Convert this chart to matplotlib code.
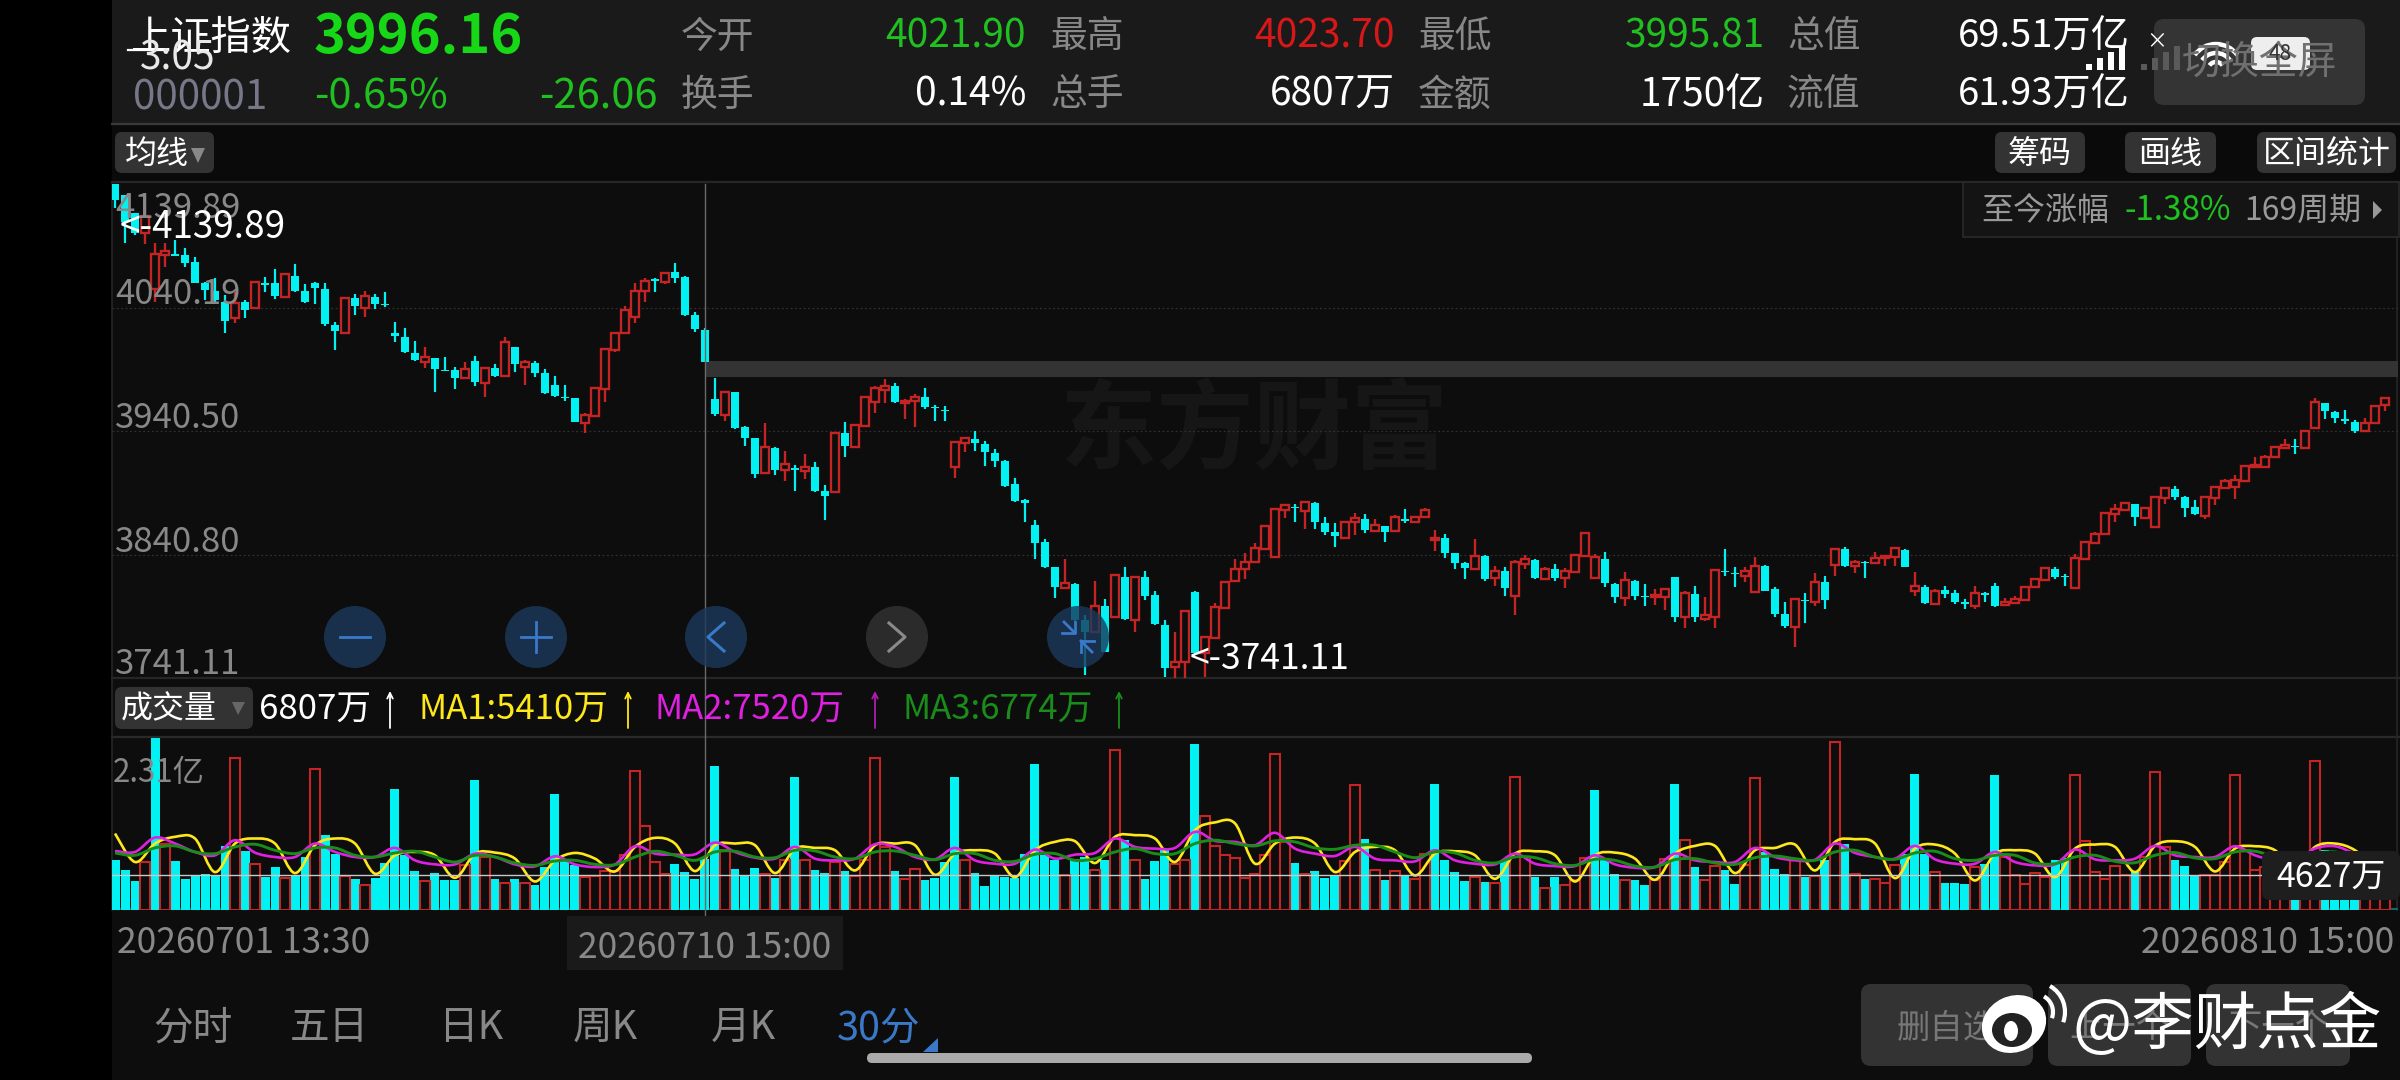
"""
30-minute candlestick chart of 上证指数 with volume panel, app screenshot layout.
"""

import numpy as np
import matplotlib
matplotlib.use("Agg")
import matplotlib.pyplot as plt
from matplotlib.path import Path
from matplotlib.patches import Circle, Ellipse, FancyBboxPatch, PathPatch, Polygon, Rectangle, Arc

plt.rcParams["font.family"] = ["Noto Sans CJK SC", "DejaVu Sans"]

PRICE_TOP = 4139.89
PRICE_BOTTOM = 3741.11
VOLUME_TOP = 23200
PRICE_GRID = [4040.19, 3940.50, 3840.80]
PRICE_LABELS = ["4139.89", "4040.19", "3940.50", "3840.80", "3741.11"]

opens = [
    4139.9, 4131, 4116.2, 4100, 4054.9, 4082.6, 4083.4, 4082.6, 4077.2, 4059.7,
    4053.8, 4044.9, 4031.4, 4044.4, 4039.5, 4059.7, 4059.7, 4049, 4065.9, 4053.8,
    4059.7, 4055.1, 4026, 4019.9, 4048.1, 4039.5, 4048.4, 4042.8, 4019.9, 4016.1,
    4003.7, 3996.5, 3999.2, 3989.7, 3989.7, 3983, 3997, 3979, 3991.1, 3984.9,
    4008.6, 3992.4, 3995.7, 3987.6, 3977.6, 3968.2, 3966.9, 3947.2, 3952.6, 3974.4,
    4005.9, 4019.3, 4032.8, 4053.8, 4063.2, 4061, 4069.1, 4064.5, 4034.1, 4021.9,
    3966, 3953.4, 3971.7, 3944, 3934.6, 3906.3, 3927, 3909, 3910.3, 3908.5,
    3911.1, 3892.3, 3891, 3938.6, 3927.8, 3944.8, 3963.6, 3973.6, 3976.8, 3963.4,
    3964.7, 3967.7, 3959.9, 3957.4, 3911.7, 3931.1, 3934, 3930, 3923, 3916.5,
    3897.7, 3884.8, 3864.6, 3850.6, 3830.4, 3814, 3817, 3787.9, 3778, 3799.5,
    3790, 3822.9, 3787.9, 3822.3, 3808.1, 3783.9, 3749.7, 3754.3, 3810.8, 3761,
    3773.1, 3797.9, 3819.4, 3829.1, 3835, 3845.2, 3838.5, 3876.7, 3879.4, 3875.9,
    3882.6, 3865.9, 3859.2, 3854.4, 3867.3, 3869.2, 3860, 3863.8, 3859.5, 3869.4,
    3867.3, 3871.3, 3852.5, 3853.8, 3841.7, 3834.2, 3829.1, 3839.6, 3821.5, 3827.5,
    3807.3, 3833.1, 3836.3, 3821, 3829.1, 3821.5, 3826.4, 3839.8, 3821.5, 3837.1,
    3817, 3805.4, 3819.4, 3807.5, 3806.7, 3806.7, 3822.3, 3790, 3808.9, 3788.4,
    3790.6, 3827.5, 3826.1, 3823.4, 3810.8, 3831.5, 3812.7, 3792.5, 3782.5, 3804,
    3802.7, 3818.3, 3832.3, 3845.2, 3831.8, 3834.7, 3833.6, 3837.7, 3838.5, 3844.4,
    3811.6, 3814.3, 3800.8, 3812.1, 3809.4, 3802.2, 3799.5, 3809.4, 3815.6, 3800,
    3801.4, 3804, 3814.3, 3820.2, 3828.8, 3823.4, 3813.7, 3837.1, 3850.3, 3857.3,
    3873.5, 3876.7, 3881.3, 3870, 3863.3, 3886.1, 3893.9, 3887.5, 3878.9, 3871.9,
    3886.7, 3894.2, 3895.5, 3900.1, 3911.7, 3911.2, 3919.8, 3927, 3928.6, 3926.5,
    3943.2, 3962.8, 3956.1, 3950.2, 3948, 3940.8, 3946.7, 3961.5,
]
closes = [
    4127, 4109.5, 4100, 4114.3, 4083.4, 4085.8, 4082, 4075.9, 4060.2, 4054.3,
    4046.2, 4029.6, 4044.1, 4038.2, 4061, 4058.4, 4049.5, 4067, 4053.5, 4044.9,
    4055.7, 4026.6, 4021.5, 4048.1, 4041.7, 4049.7, 4043, 4042, 4017.2, 4004,
    3997.8, 4000, 3990.5, 3988.9, 3983.6, 3990.5, 3980.3, 3991.6, 3985.2, 4012,
    3994.3, 3996.5, 3987.6, 3970.9, 3969, 3966.9, 3948, 3953.4, 3974.9, 4006.7,
    4019.3, 4038.2, 4053.8, 4061.6, 4061.9, 4068.3, 4063.7, 4034.1, 4022.8, 3996.16,
    3953.9, 3971.7, 3942.6, 3935.1, 3905.5, 3927.8, 3909, 3913.6, 3909, 3911.1,
    3892, 3888, 3939.1, 3928.4, 3945.3, 3967.7, 3974.9, 3976.8, 3963.6, 3965,
    3967.7, 3959.6, 3959, 3956.6, 3931.9, 3935.1, 3931.1, 3923.3, 3916.5, 3896.3,
    3884, 3882.1, 3850.3, 3830.4, 3814.3, 3818, 3787.9, 3778.5, 3799.5, 3762.3,
    3824.2, 3788.7, 3822.9, 3807.3, 3784.4, 3748.9, 3754.3, 3795.4, 3761, 3774.4,
    3798.7, 3818.8, 3828.8, 3835, 3845.8, 3864, 3877.5, 3880.7, 3878, 3883.4,
    3867.3, 3859.2, 3855.7, 3866.7, 3870.5, 3860.6, 3864.6, 3859.2, 3870.8, 3868.1,
    3871.3, 3876.7, 3853.8, 3841.7, 3833.6, 3829.6, 3839.6, 3821, 3827.5, 3813.5,
    3835, 3836.9, 3821.5, 3829.1, 3821.5, 3827.7, 3840.4, 3858.4, 3838.5, 3817.5,
    3806.7, 3820.2, 3807.3, 3806.5, 3808.1, 3812.7, 3790, 3809.4, 3790, 3791.9,
    3828.3, 3826.4, 3824.8, 3827.7, 3831.5, 3811.6, 3792.5, 3783, 3804.8, 3803.2,
    3818.8, 3804, 3845, 3831.5, 3835, 3833.6, 3838.2, 3839.6, 3845.8, 3831,
    3815.3, 3801.4, 3811.6, 3808.6, 3802.2, 3800.8, 3809.4, 3808.1, 3799.5, 3802.7,
    3804.8, 3814.8, 3820.7, 3829.6, 3822.9, 3822.3, 3837.7, 3851.1, 3857.3, 3874,
    3877.5, 3882.1, 3870.8, 3878, 3886.9, 3894.7, 3887.5, 3878.6, 3873.2, 3887.5,
    3895.5, 3900.4, 3900.9, 3912.2, 3912.2, 3919.8, 3927.3, 3929.2, 3927.3, 3940.8,
    3964.2, 3956.6, 3950.7, 3948.8, 3940.8, 3946.7, 3960.9, 3967.4,
]
highs = [
    4139.9, 4131, 4116.2, 4114.3, 4092, 4092, 4094.7, 4088, 4081.2, 4061,
    4063.7, 4050.3, 4053, 4046.2, 4061.6, 4064.5, 4071.3, 4067.2, 4075, 4058.9,
    4061, 4059.7, 4028.8, 4048.4, 4051.1, 4053.8, 4051.1, 4052.7, 4028.8, 4023.9,
    4013.4, 4008, 3999.2, 4000, 3992.4, 3996.5, 4001.3, 3992.4, 3994.3, 4016.1,
    4008.6, 3997.8, 3997, 3990.5, 3984.9, 3977.6, 3967.4, 3954.8, 3975.7, 4007.2,
    4019.9, 4041.4, 4060.2, 4064.3, 4064.3, 4069.1, 4075.9, 4065.6, 4036.8, 4023.7,
    3983, 3971.7, 3972.2, 3944.5, 3935.1, 3947.2, 3927.3, 3924.6, 3913, 3921.6,
    3915.7, 3896.9, 3939.7, 3948, 3945.9, 3968.2, 3976.8, 3982.2, 3979.5, 3966,
    3970.1, 3974.9, 3961.5, 3960.7, 3931.9, 3935.6, 3940.5, 3932.4, 3925.7, 3917,
    3902.8, 3885.3, 3868.6, 3853.3, 3831, 3836.9, 3817.5, 3791.9, 3819.7, 3804.6,
    3824.8, 3830.4, 3823.4, 3827.5, 3811.3, 3787.9, 3778.5, 3796, 3811.3, 3775,
    3801.9, 3819.4, 3836.9, 3842.3, 3850.3, 3864.6, 3878, 3881.3, 3881.3, 3884,
    3883.4, 3870.8, 3865.9, 3867.3, 3874, 3873.2, 3869.2, 3864, 3872.7, 3877.5,
    3871.9, 3878, 3860.6, 3857.3, 3842.3, 3834.7, 3853, 3840.1, 3831.5, 3830.4,
    3836.3, 3840.4, 3836.9, 3830.4, 3832.8, 3829.6, 3840.9, 3859, 3840.9, 3843.1,
    3817.5, 3826.9, 3819.9, 3817, 3812.9, 3813.2, 3822.9, 3811.3, 3815.6, 3806.2,
    3828.8, 3844.9, 3830.4, 3830.4, 3838.5, 3832, 3814.3, 3802.7, 3805.4, 3809.4,
    3825.6, 3823.4, 3845.5, 3846.6, 3836.3, 3835.8, 3842.5, 3839.8, 3846.3, 3844.9,
    3826.4, 3816.4, 3813.2, 3815.4, 3812.1, 3805.1, 3815.4, 3810.5, 3817.5, 3805.4,
    3807.5, 3815.4, 3821.3, 3830.4, 3831, 3825, 3841.2, 3851.7, 3859.2, 3875.4,
    3881.6, 3883.4, 3881.8, 3878.6, 3887.5, 3895.5, 3896.1, 3888, 3884.8, 3888,
    3896.1, 3901.5, 3905, 3912.8, 3919.2, 3921.1, 3927.8, 3933.8, 3933.8, 3941.3,
    3966.9, 3963.4, 3956.6, 3957.4, 3949.4, 3950.7, 3961.5, 3967.9,
]
lows = [
    4120.3, 4092.5, 4098.7, 4091.5, 4044.9, 4073.2, 4081.8, 4072.6, 4059.7, 4046.2,
    4044.9, 4019.9, 4028, 4031.4, 4038.7, 4052.4, 4046.8, 4048.4, 4052.4, 4043.6,
    4043, 4025.5, 4005.9, 4019.3, 4034.1, 4032.8, 4038.7, 4040.9, 4012.3, 4003.5,
    3997.3, 3991.1, 3972.2, 3988.7, 3974.4, 3982.5, 3976.8, 3968.2, 3984.4, 3984.4,
    3987.9, 3977.6, 3984.4, 3970.4, 3968.2, 3965, 3947.5, 3939.1, 3952, 3964.2,
    4004.3, 4018.8, 4028, 4044.9, 4053, 4058.9, 4060.2, 4033.6, 4020.1, 3995.81,
    3952.9, 3948.8, 3942.1, 3928.4, 3902.8, 3905.8, 3905, 3900.4, 3892.3, 3901.7,
    3891.5, 3868.6, 3890.4, 3919.2, 3927.3, 3944.3, 3954.7, 3962.8, 3963.1, 3950.2,
    3944, 3958, 3948.8, 3948.8, 3902.8, 3923.8, 3924.6, 3912.5, 3911.7, 3895.5,
    3883.4, 3867.3, 3836.9, 3829.9, 3805.4, 3813.5, 3787.4, 3743.5, 3777.1, 3761.8,
    3789.2, 3788.2, 3778.5, 3804, 3783.9, 3742.2, 3741.11, 3741.11, 3760.5, 3742.2,
    3772.6, 3797.3, 3818.8, 3820.7, 3834.5, 3844.7, 3838, 3870, 3867.3, 3861.1,
    3861.1, 3856.5, 3847.1, 3853.8, 3856.5, 3857.9, 3859.5, 3851.1, 3858.9, 3866.5,
    3866.5, 3870.8, 3843.9, 3837.7, 3829.1, 3821, 3828.5, 3819.7, 3815.6, 3807.5,
    3792, 3828.8, 3821, 3820.5, 3819.7, 3813.5, 3825.8, 3839.3, 3821, 3814.3,
    3801.4, 3799.5, 3804, 3799.2, 3800, 3796, 3786.6, 3781.2, 3786.6, 3787.4,
    3781.7, 3823.4, 3814.8, 3818.8, 3810.2, 3811, 3790, 3781.7, 3766.4, 3785.7,
    3799.5, 3796.5, 3823.4, 3830.4, 3825.6, 3821.5, 3833.1, 3831.8, 3831.8, 3830.4,
    3807.3, 3800.5, 3800.3, 3805.4, 3800.5, 3796.8, 3796.8, 3802.2, 3798.1, 3799.5,
    3800.8, 3803.5, 3813.7, 3819.7, 3820.7, 3815.6, 3813.2, 3836.6, 3849.8, 3856.8,
    3867.3, 3876.2, 3863.8, 3869.4, 3862.7, 3881.6, 3884.8, 3871.3, 3872.7, 3869.7,
    3880.7, 3893.4, 3885.3, 3899.6, 3910.9, 3910.3, 3919.2, 3926.5, 3921.9, 3925.9,
    3942.6, 3949.9, 3947.2, 3945.9, 3938.6, 3940.2, 3946.2, 3956.9,
]

# volume per bar, in 万
volumes = [
    6660, 5400, 3870, 6435, 23100, 8910, 6525, 4185, 4725, 4860,
    4725, 8550, 20385, 7875, 6120, 4410, 5760, 4275, 4545, 7110,
    18900, 10035, 7470, 4545, 4185, 3375, 4320, 6300, 16245, 7335,
    5175, 3870, 4995, 3960, 3960, 5985, 17370, 7110, 4095, 3645,
    4185, 3645, 3375, 5760, 15525, 6660, 5985, 4410, 4500, 5220,
    5220, 7335, 18585, 11250, 6435, 4860, 6120, 5085, 4095, 6807,
    19350, 8010, 5445, 4635, 5625, 4770, 4320, 6660, 17820, 6750,
    5310, 4995, 6435, 5175, 4500, 6660, 20340, 8460, 5175, 4185,
    5535, 4050, 4320, 6435, 17820, 6660, 4995, 3285, 4635, 4410,
    4320, 7560, 19620, 7335, 6660, 4635, 6885, 7110, 5400, 6660,
    21420, 9360, 6750, 4185, 6570, 8010, 6210, 6660, 22275, 12645,
    8595, 7425, 6975, 4320, 4770, 7335, 20970, 9135, 6345, 4860,
    5175, 4320, 4635, 6525, 16785, 9495, 5400, 4050, 5220, 4635,
    4185, 7560, 16875, 6660, 5085, 3825, 4410, 3735, 3600, 6660,
    17820, 7110, 4410, 2925, 4410, 3375, 3960, 7020, 16110, 6660,
    4860, 4050, 3960, 3375, 3960, 6885, 16875, 9450, 5760, 4050,
    5850, 5310, 3510, 5985, 17640, 7785, 5535, 4860, 6660, 4410,
    4545, 6660, 22545, 8910, 4770, 4185, 4095, 3600, 5985, 7560,
    18270, 7560, 5085, 3645, 3645, 3510, 5760, 6210, 18045, 7110,
    4635, 3420, 4995, 4410, 6660, 7020, 18045, 9225, 5085, 4185,
    5850, 4635, 5085, 7110, 18450, 8460, 6660, 5850, 4635, 4725,
    4635, 6435, 18135, 8010, 5400, 5760, 4410, 4410, 3960, 3960,
    19935, 8010, 5760, 4410, 5760, 2610, 5760, 4627,
]
# bars drawn hollow red; all the others are solid cyan
volume_red_bars = [
    3, 5, 12, 14, 17, 20, 23, 25, 31, 35, 37, 39, 41, 47, 48, 49, 50, 51, 52, 53,
    54, 55, 61, 65, 67, 69, 72, 74, 75, 76, 77, 79, 80, 85, 95, 98, 100, 102, 106,
    107, 109, 110, 111, 112, 113, 114, 115, 116, 117, 119, 123, 124, 126, 128, 130,
    131, 136, 138, 140, 141, 143, 145, 146, 147, 151, 154, 155, 157, 159, 160, 163,
    164, 168, 170, 172, 174, 176, 177, 178, 182, 186, 189, 190, 191, 192, 193, 196,
    197, 198, 199, 200, 201, 203, 204, 205, 209, 210, 211, 212, 213, 214, 215, 216,
    217, 219, 220, 225, 226, 227,
]

# moving averages, in 万
ma1 = [
    10260, 6435, 8910, 9810, 9585, 5085, 8910, 9585, 8910, 4950,
    8685, 9585, 8910, 4860, 7335, 7785, 7335, 4320, 7560, 7695,
    6885, 3825, 6660, 7650, 6885, 5175, 8460, 9675, 8910, 5220,
    8685, 8910, 8685, 4950, 8235, 8325, 8010, 5310, 8685, 8910,
    8685, 4725, 7560, 8010, 7560, 4410, 8010, 9135, 9225, 6300,
    9810, 10035, 9585, 6435, 10710, 11745, 11610, 6210, 8910, 9720,
    8910, 5085, 7785, 8460, 8010, 4635, 7560, 7875, 7335, 4185,
    7560, 7875, 7335, 3825, 7335, 7695, 6885, 4050, 7560, 8595,
    8595, 4950, 8010, 8325, 8775, 5310, 9135, 9495, 8910, 4275,
    8235, 8775, 7560, 3960, 7560, 8010, 7560, 4410, 8235, 8775,
    8460, 5085, 8595, 9225, 8460, 5175, 8235, 8550, 8010, 5310,
    8460, 8910, 8010, 5535,
]
ma2 = [
    7920, 7785, 9720, 8910, 7785, 7335, 9360, 7695, 7110, 7110,
    8910, 7785, 7110, 7110, 8325, 6660, 6120, 6120, 7560, 7110,
    6120, 5850, 7200, 6120, 5760, 6120, 8550, 7560, 7425, 7470,
    9045, 7785, 7020, 6885, 8460, 6885, 6660, 6885, 8820, 8460,
    7110, 6795, 8325, 6660, 6210, 6210, 8100, 6885, 7425, 7650,
    9585, 8460, 8235, 8325, 10485, 9270, 9135, 8685, 10350, 8235,
    7560, 7245, 8460, 6885, 6660, 6525, 8010, 6660, 6210, 6120,
    7560, 6210, 5895, 5895, 7335, 6120, 5670, 5760, 7560, 6660,
    6435, 6435, 8325, 7110, 6660, 6750, 8910, 7650, 7110, 6885,
    8595, 6795, 6210, 6210, 7785, 6435, 5985, 6120, 8100, 6795,
    6660, 6885, 8595, 7335, 7110, 7110, 8550, 7335, 6660, 6660,
    8235, 8550, 7560, 6660,
]
ma3 = [
    7650, 7335, 8325, 8595, 7785, 7560, 8460, 8820, 8010, 7560,
    8325, 8325, 7335, 7110, 7650, 7875, 7110, 6435, 7335, 7110,
    6300, 5985, 6570, 6660, 6120, 6075, 7110, 7875, 7335, 6660,
    7785, 7875, 7110, 7020, 8010, 7920, 7110, 6885, 7785, 7920,
    7335, 6750, 7560, 7560, 6660, 6525, 7470, 7560, 6660, 6885,
    7785, 8235, 7560, 7560, 8910, 9360, 8910, 8595, 9270, 9135,
    8325, 8145, 8685, 8685, 7785, 7020, 7785, 7650, 6660, 6300,
    7110, 7020, 6210, 5985, 6795, 6660, 5895, 5760, 6750, 6885,
    6300, 6120, 7020, 7245, 6885, 6660, 7785, 8010, 7110, 6795,
    7650, 7875, 6885, 6660, 7335, 7335, 6300, 6210, 7110, 7335,
    6525, 6345, 7335, 7695, 6975, 6885, 7785, 7875, 7110, 6660,
    7560, 7785, 7110, 6660,
]

BG = "#0d0d0d"
HEADER = "#1a1a1a"
BUTTON = "#333333"
GRAY = "#888888"
RED = "#c42424"
CYAN = "#00f2f2"
GREEN = "#1fc01f"
YELLOW = "#ffe81a"
MAGENTA = "#e020e0"
DARK_GREEN = "#1a8c1a"
BLUE = "#3a78c8"


def pane(rect):
    """Axes covering a pixel rectangle x0, y0, x1, y1 (y measured from the top)."""
    x0, y0, x1, y1 = rect
    return fig.add_axes([x0 / 2400, 1 - y1 / 1080, (x1 - x0) / 2400, (y1 - y0) / 1080])


def txt(x, y, s, size=27, color="white", ha="left", **kw):
    # the CJK font sits a little high when centred
    top.text(x, y + 3, s, fontsize=size, color=color, ha=ha, va="center", **kw)


def box(ax, x0, y0, x1, y1, color=BUTTON, radius=7, **kw):
    ax.add_patch(FancyBboxPatch((x0 + radius, y0 + radius), x1 - x0 - 2 * radius, y1 - y0 - 2 * radius,
                                boxstyle=f"round,pad={radius},rounding_size={radius}",
                                fc=color, ec="none", **kw))


def curve(ax, xs, ys, color, lw, zorder):
    """Draw a line through the read values as a Bezier path, the app smooths its MA lines."""
    pts = np.column_stack([xs, ys]).astype(float)
    verts = [pts[0]]
    codes = [Path.MOVETO]
    for i in range(len(pts) - 1):
        before = pts[max(i - 1, 0)]
        after = pts[min(i + 2, len(pts) - 1)]
        verts += [pts[i] + (pts[i + 1] - before) / 6, pts[i + 1] - (after - pts[i]) / 6, pts[i + 1]]
        codes += [Path.CURVE4] * 3
    ax.add_patch(PathPatch(Path(verts, codes), fc="none", ec=color, lw=lw, zorder=zorder))


fig = plt.figure(figsize=(24, 10.8), dpi=100, facecolor="black")

# background layer in pixel coordinates
back = pane((0, 0, 2400, 1080))
back.set_xlim(0, 2400)
back.set_ylim(1080, 0)
back.axis("off")
back.add_patch(Rectangle((112, 0), 2288, 1080, fc=BG, ec="none"))
back.add_patch(Rectangle((112, 0), 2288, 124, fc=HEADER, ec="none"))
back.add_patch(Rectangle((112, 125), 2288, 57, fc="#0a0a0a", ec="none"))
for yy, col in [(124, "#3a3a3a"), (182, "#262626"), (678, "#262626"), (737, "#2a2a2a")]:
    back.plot([112, 2400], [yy, yy], color=col, lw=1.6)
back.plot([112, 112], [182, 910], color="#262626", lw=1.2)
back.plot([2397, 2397], [182, 910], color="#262626", lw=1.2)
# watermark
back.text(1254, 433, "东方财富", fontsize=70, fontweight="bold", color="#161616", ha="center", va="center")

x_idx = np.arange(len(opens))
xlim = ((112 - 115) / 10, (2398 - 115) / 10)

# price panel
ax = pane((112, 184, 2398, 678))
ax.patch.set_alpha(0)
ax.set_xlim(*xlim)
ax.set_ylim(PRICE_BOTTOM, PRICE_TOP)
ax.axis("off")
for level in PRICE_GRID:
    ax.axhline(level, color="#303030", lw=0.9, ls=(0, (1.5, 2)))
ax.add_patch(Rectangle((59, 3984.3), 170, 12.5, fc="#333333", ec="none", zorder=1))

o = np.array(opens)
c = np.array(closes)
h = np.array(highs)
l = np.array(lows)
up = c >= o
ax.vlines(x_idx[~up], l[~up], h[~up], color=CYAN, lw=1.6, zorder=2)
ax.vlines(x_idx[up], l[up], h[up], color=RED, lw=1.7, zorder=2)
ax.bar(x_idx[~up], np.maximum(o - c, 1.0)[~up], bottom=c[~up], width=0.72, color=CYAN, zorder=3)
ax.bar(x_idx[up], np.maximum(c - o, 1.0)[up], bottom=o[up], width=0.78, facecolor=BG, edgecolor=RED,
       linewidth=1.7, zorder=3)

# volume panel
vax = pane((112, 737, 2398, 910))
vax.patch.set_alpha(0)
vax.set_xlim(*xlim)
vax.set_ylim(0, VOLUME_TOP)
vax.axis("off")
vol = np.array(volumes)
is_red = np.isin(x_idx, volume_red_bars)
vax.axhline(0, color="#0b6a6a", lw=3)
vax.bar(x_idx[~is_red], vol[~is_red], width=0.9, color=CYAN, zorder=2)
vax.bar(x_idx[is_red], vol[is_red], width=0.92, facecolor=BG, edgecolor=RED, linewidth=1.5, zorder=3)
ma_x = np.arange(0, len(opens), 2)
curve(vax, ma_x, ma1, YELLOW, 1.9, 4)
curve(vax, ma_x, ma2, MAGENTA, 1.9, 5)
curve(vax, ma_x, ma3, DARK_GREEN, 2.1, 6)
vax.axhline(volumes[-1], color="#c8c8c8", lw=1.0, zorder=7)

# top layer, pixel coordinates again
top = pane((0, 0, 2400, 1080))
top.patch.set_alpha(0)
top.set_xlim(0, 2400)
top.set_ylim(1080, 0)
top.axis("off")

# crosshair
top.plot([705, 705], [184, 915], color="#6a6a6a", lw=1.0, zorder=1)

# header rows
txt(131, 35, "上证指数", 29)
txt(140, 55, "3:05", 28, "#e8e8e8")
top.plot([128, 165], [50, 50], color="white", lw=1.6)
txt(314, 34, "3996.16", 39, "#16d816", fontweight="bold")
txt(133, 95, "000001", 29, "#77778a")
txt(314, 94, "-0.65%", 30, GREEN)
txt(658, 94, "-26.06", 30, GREEN, ha="right")
for xx, yy, s in [(681, 34, "今开"), (681, 92, "换手"), (1050, 34, "最高"), (1050, 92, "总手"),
                  (1418, 34, "最低"), (1418, 92, "金额"), (1787, 34, "总值"), (1787, 92, "流值")]:
    txt(xx, yy, s, 26.5, GRAY)
txt(1026, 34, "4021.90", 28, GREEN, ha="right")
txt(1026, 92, "0.14%", 28, ha="right")
txt(1395, 34, "4023.70", 28, "#d81818", ha="right")
txt(1395, 92, "6807万", 28, ha="right")
txt(1765, 34, "3995.81", 28, GREEN, ha="right")
txt(1765, 92, "1750亿", 28, ha="right")
txt(2130, 34, "69.51万亿", 27.5, ha="right")
txt(2130, 92, "61.93万亿", 27.5, ha="right")

# status bar and full screen button
box(top, 2154, 19, 2365, 105, "#363636", 10, alpha=0.95)
txt(2260, 60, "切换全屏", 28, "#707070", ha="center")
for k, yy in enumerate([64, 58, 52, 46]):
    top.add_patch(Rectangle((2086 + k * 11, yy), 6, 70 - yy, fc="white", ec="none"))
    top.add_patch(Rectangle((2141 + k * 11, yy), 6, 70 - yy, fc="#5a5a5a", ec="none"))
txt(2146, 38, "×", 15)
for rad in [26, 17, 8]:
    top.add_patch(Arc((2216, 70), 2 * rad, 2 * rad, theta1=215, theta2=325, color="white", lw=3.2))
box(top, 2251, 37, 2310, 70, "#eeeeee", 6)
txt(2280, 51, "48", 15, "#333333", ha="center")

# chart toolbar
box(top, 115, 132, 214, 173)
txt(125, 151, "均线", 23)
top.add_patch(Polygon([(191, 148), (205, 148), (198, 163)], fc=GRAY, ec="none"))
for x0, x1, s in [(1995, 2085, "筹码"), (2125, 2216, "画线"), (2257, 2396, "区间统计")]:
    box(top, x0, 132, x1, 173)
    txt((x0 + x1) / 2, 151, s, 23, ha="center")
top.add_patch(Rectangle((1963, 182), 436, 55, fc="#141414", ec="#2a2a2a", lw=1.2))
txt(1981, 208, "至今涨幅", 23, "#999999")
txt(2125, 208, "-1.38%", 24, GREEN)
txt(2244, 208, "169周期", 23, "#999999")
top.add_patch(Polygon([(2373, 201), (2373, 219), (2382, 210)], fc="#999999", ec="none"))

# price axis labels
for yy, s in zip([205, 291, 416, 540, 661], PRICE_LABELS):
    txt(115, yy, s, 25, GRAY)
txt(120, 225, "<-4139.89", 26.5)
txt(1190, 656, "<-3741.11", 25.5)

# round chart buttons
for xx, col in [(355, "#1c3a5c"), (536, "#1c3a5c"), (716, "#1c3a5c"), (897, "#333333"), (1078, "#1c3a5c")]:
    top.add_patch(Circle((xx, 637), 31, fc=col, ec="none", alpha=0.8, zorder=3))
top.plot([340, 370], [637, 637], color=BLUE, lw=2, zorder=4)
top.plot([521, 551], [637, 637], color=BLUE, lw=2, zorder=4)
top.plot([536, 536], [622, 652], color=BLUE, lw=2, zorder=4)
top.plot([724, 708, 724], [623, 637, 651], color=BLUE, lw=2.2, zorder=4)
top.plot([889, 905, 889], [623, 637, 651], color="#8a8a8a", lw=2.2, zorder=4)
top.plot([1064, 1075], [622, 633], color=BLUE, lw=2, zorder=4)
top.plot([1075, 1075, 1062], [622, 633, 633], color=BLUE, lw=2, zorder=4)
top.plot([1092, 1081], [652, 641], color=BLUE, lw=2, zorder=4)
top.plot([1081, 1081, 1094], [652, 641, 641], color=BLUE, lw=2, zorder=4)

# volume legend row
box(top, 115, 687, 253, 729)
txt(121, 706, "成交量", 23)
top.add_patch(Polygon([(232, 702), (245, 702), (238, 715)], fc="#666666", ec="none"))
txt(259, 706, "6807万", 25)
txt(419, 706, "MA1:5410万", 25, YELLOW)
txt(655, 706, "MA2:7520万", 25, MAGENTA)
txt(902, 706, "MA3:6774万", 25, DARK_GREEN)
for xx, col in [(390, "white"), (628, YELLOW), (875, "#b01cb0"), (1119, DARK_GREEN)]:
    top.annotate("", xy=(xx, 691), xytext=(xx, 728),
                 arrowprops=dict(arrowstyle="->", color=col, lw=1.3, shrinkA=0, shrinkB=0))
txt(113, 770, "2.31亿", 22.5, GRAY)

# current volume tag
box(top, 2262, 851, 2400, 900, "#1e1e1e", 8, zorder=8)
top.text(2331, 877, "4627万", fontsize=24.5, color="white", ha="center", va="center", zorder=9)

# date labels
top.add_patch(Rectangle((567, 916), 276, 54, fc="#1a1a1a", ec="none"))
txt(117, 940, "20260701 13:30", 25.5, GRAY)
txt(705, 945, "20260710 15:00", 25.5, GRAY, ha="center")
txt(2394, 940, "20260810 15:00", 25.5, GRAY, ha="right")

# period tabs
for xx, s in [(153, "分时"), (290, "五日"), (438, "日K"), (573, "周K"), (711, "月K")]:
    txt(xx, 1025, s, 28.5, GRAY)
txt(837, 1025, "30分", 28.5, BLUE)
top.add_patch(Polygon([(923, 1052), (938, 1052), (938, 1038)], fc=BLUE, ec="none"))
box(top, 867, 1053, 1532, 1063, "#aaaaaa", 5)

# bottom right buttons with watermark over them
for x0, x1, s in [(1861, 2033, "删自选"), (2048, 2191, "上一个"), (2206, 2350, "下一个")]:
    box(top, x0, 984, x1, 1066, "#333333", 10)
    txt((x0 + x1) / 2, 1025, s, 24, "#777777", ha="center")
top.add_patch(Ellipse((2014, 1024), 66, 56, angle=-25, fc="white", ec="none", zorder=6))
top.add_patch(Ellipse((2012, 1030), 40, 34, fc="#222222", ec="none", zorder=7))
top.add_patch(Ellipse((2011, 1031), 14, 20, fc="white", ec="none", zorder=8))
top.add_patch(Arc((2035, 1012), 36, 36, theta1=-60, theta2=20, color="white", lw=3, zorder=6))
top.add_patch(Arc((2035, 1012), 60, 60, theta1=-60, theta2=20, color="white", lw=3, zorder=6))
top.text(2073, 1026, "@李财点金", fontsize=45, color="white", ha="left", va="center", zorder=9)

fig.savefig("out.png", dpi=100, facecolor="black")
plt.close(fig)
